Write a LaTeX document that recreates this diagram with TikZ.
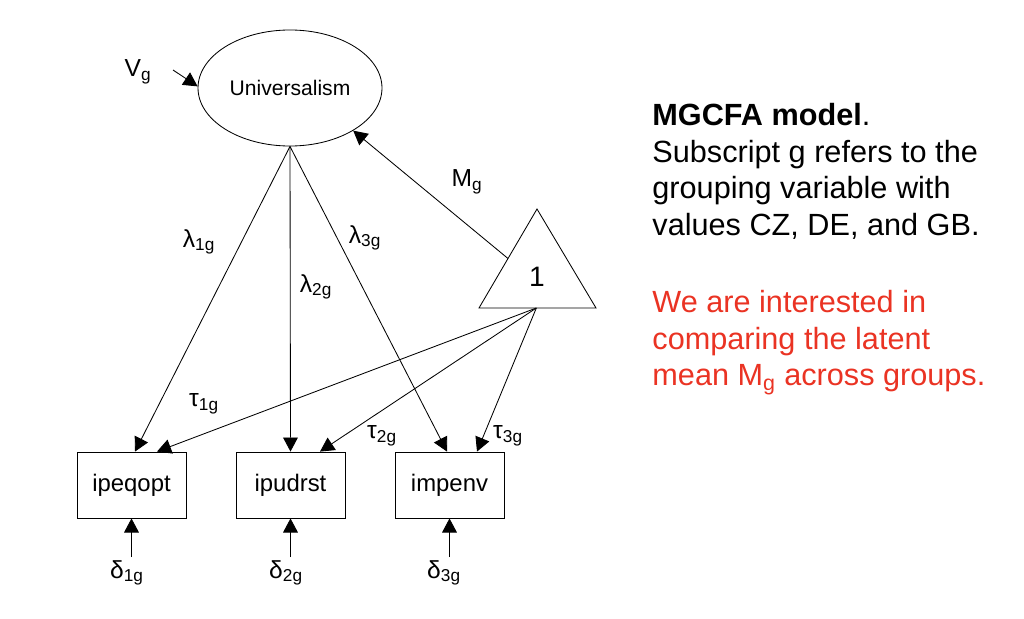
\documentclass[tikz,border=0pt]{standalone}
\usepackage{fontspec}
\setmainfont{Liberation Sans}
\usetikzlibrary{arrows.meta,calc,shapes.geometric}
\definecolor{notered}{RGB}{234,51,35}
\newcommand{\pl}[2]{#1\textsubscript{#2}}

\begin{document}
\begin{tikzpicture}[x=0.025cm,y=-0.025cm,line width=0.6pt,
  path/.style={-{Triangle[length=10pt,width=10.5pt]}},
  latent/.style={draw,ellipse,minimum width=4.45cm,minimum height=2.9cm,font=\fontsize{15}{18}\selectfont},
  manifest/.style={draw,rectangle,minimum width=2.725cm,minimum height=1.65cm,font=\fontsize{17}{20}\selectfont},
  parm/.style={font=\fontsize{17.5}{20}\selectfont,inner sep=0pt},
  txt/.style={anchor=north west,align=left,inner sep=0pt,font=\fontsize{21.8}{26}\selectfont}]
  \useasboundingbox (0,0) rectangle (1024,618);
  % latent factor and indicators
  \node[latent] (uni) at (290,88) {Universalism};
  \node[manifest] (b1) at (131.5,485) {ipeqopt};
  \node[manifest] (b2) at (290.5,485) {ipudrst};
  \node[manifest] (b3) at (449.5,485) {impenv};
  % mean structure (constant)
  \coordinate (apex) at (537,209);
  \coordinate (tl) at (479,308);
  \coordinate (tr) at (596,308);
  \draw (apex) -- (tl) -- (tr) -- cycle;
  \node[font=\fontsize{20}{24}\selectfont] (one) at (537,277) {1};
  \coordinate (tbase) at ($(tl)!0.49!(tr)$);
  \coordinate (tedge) at ($(apex)!0.5!(tl)$);
  % variance
  \node[parm] (vg) at (138,72) {\pl{V}{g}};
  \coordinate (vtail) at (173,70);
  \draw[path] (vtail) -- (uni.179);
  % latent mean
  \node[parm] (mg) at (467,182) {\pl{M}{g}};
  \draw[path] (tedge) -- (uni.-34);
  % loadings
  \draw[path] (uni.south) -- ($(b1.north)+(3.5,0)$);
  \draw[path] (uni.south) -- (b2.north);
  \draw[path] (uni.south) -- ($(b3.north)+(-2.5,0)$);
  \node[parm] (l1) at (199,242) {\pl{λ}{1g}};
  \node[parm] (l2) at (316,287) {\pl{λ}{2g}};
  \node[parm] (l3) at (365,238) {\pl{λ}{3g}};
  % intercepts
  \draw[path] (tbase) -- ($(b1.north)+(25.5,0)$);
  \draw[path] (tbase) -- ($(b2.north)+(29.5,0)$);
  \draw[path] (tbase) -- ($(b3.north)+(27.5,0)$);
  \node[parm] (t1) at (204,404) {\pl{τ}{1g}};
  \node[parm] (t2) at (382,436) {\pl{τ}{2g}};
  \node[parm] (t3) at (508,436) {\pl{τ}{3g}};
  % residuals
  \node[parm,anchor=north,inner sep=2pt] (d1) at (127,557) {\pl{δ}{1g}};
  \node[parm,anchor=north,inner sep=2pt] (d2) at (286,557) {\pl{δ}{2g}};
  \node[parm,anchor=north,inner sep=2pt] (d3) at (444,557) {\pl{δ}{3g}};
  \draw[path] (d1.north -| b1) -- (b1.south);
  \draw[path] (d2.north -| b2) -- (b2.south);
  \draw[path] (d3.north -| b3) -- (b3.south);
  % text
  \node[txt] (caption) at (652,103) {\textbf{MGCFA model}.\\Subscript g refers to the\\grouping variable with\\values CZ, DE, and GB.};
  \node[txt,text=notered] (note) at (652,290) {We are interested in\\comparing the latent\\mean M\textsubscript{g} across groups.};
\end{tikzpicture}
\end{document}
